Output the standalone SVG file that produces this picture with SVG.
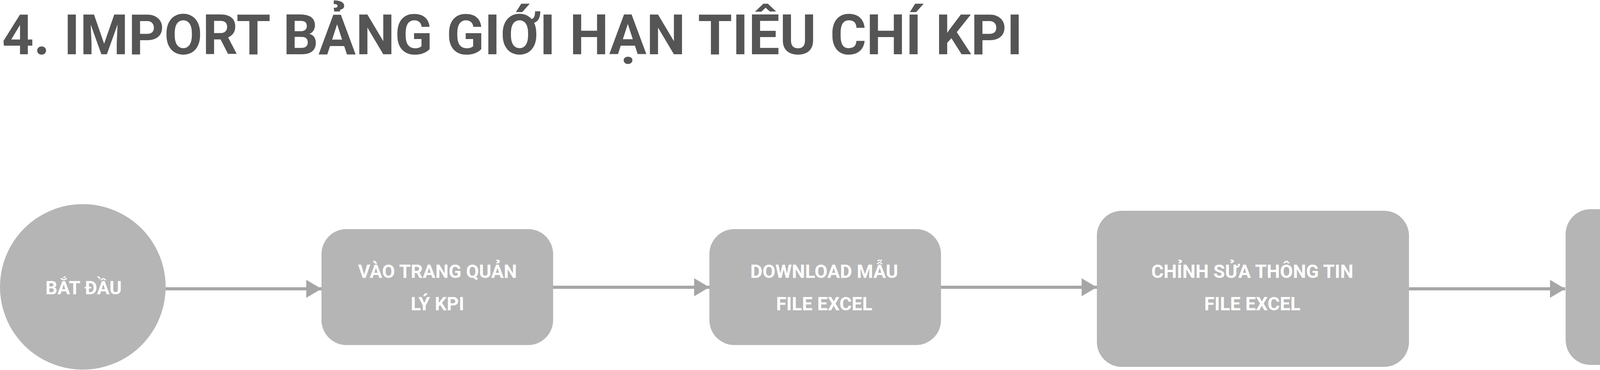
<svg xmlns="http://www.w3.org/2000/svg" width="5632" height="948" viewBox="0 0 5632 948">
<style>
.node{fill:#b5b5b5}
.lbl{font-family:Roboto,"Liberation Sans",sans-serif;font-weight:700;font-size:48px;fill:#ffffff;text-anchor:middle}
.title{font-family:Roboto,"Liberation Sans",sans-serif;font-weight:700;font-size:142px;fill:#555555}
.conn{stroke:#a6a6a6;stroke-width:8;fill:none;marker-end:url(#ah)}
</style>
<defs>
<marker id="ah" markerUnits="userSpaceOnUse" markerWidth="40" markerHeight="48" refX="39" refY="23" orient="auto">
<path d="M0,0 L39,23 L0,46 Z" fill="#a6a6a6"/>
</marker>
</defs>
<rect width="5632" height="948" fill="#ffffff"/>
<text class="title" x="5" y="139">4. IMPORT BẢNG GIỚI HẠN TIÊU CHÍ KPI</text>
<g id="connectors">
<line class="conn" x1="424" y1="740" x2="823" y2="740"/>
<line class="conn" x1="1416" y1="736" x2="1816" y2="736"/>
<line class="conn" x1="2409" y1="736" x2="2808" y2="736"/>
<line class="conn" x1="3607" y1="740" x2="4007" y2="740"/>
<line class="conn" x1="4807" y1="732" x2="5207" y2="732"/>
</g>
<g id="n1">
<circle class="node" cx="212" cy="735" r="212"/>
<text class="lbl" x="214" y="754">BẮT ĐẦU</text>
</g>
<g id="n2">
<rect class="node" x="823" y="587" width="593" height="297" rx="64" ry="64"/>
<text class="lbl" x="1120" y="712">VÀO TRANG QUẢN</text>
<text class="lbl" x="1120" y="795">LÝ KPI</text>
</g>
<g id="n3">
<rect class="node" x="1816" y="587" width="593" height="297" rx="64" ry="64"/>
<text class="lbl" x="2110" y="712">DOWNLOAD MẪU</text>
<text class="lbl" x="2110" y="795">FILE EXCEL</text>
</g>
<g id="n4">
<rect class="node" x="2808" y="540" width="799" height="400" rx="64" ry="64"/>
<text class="lbl" x="3206" y="712">CHỈNH SỬA THÔNG TIN</text>
<text class="lbl" x="3206" y="795">FILE EXCEL</text>
</g>
<g id="n5">
<rect class="node" x="4008" y="536" width="799" height="399" rx="64" ry="64"/>
<text class="lbl" x="4407" y="748">IMPORT FILE EXCEL</text>
</g>
<g id="n6">
<circle class="node" cx="5420" cy="735" r="212"/>
<text class="lbl" x="5420" y="708">THIẾT LẬP</text>
<text class="lbl" x="5420" y="792">THÀNH CÔNG</text>
</g>
</svg>
